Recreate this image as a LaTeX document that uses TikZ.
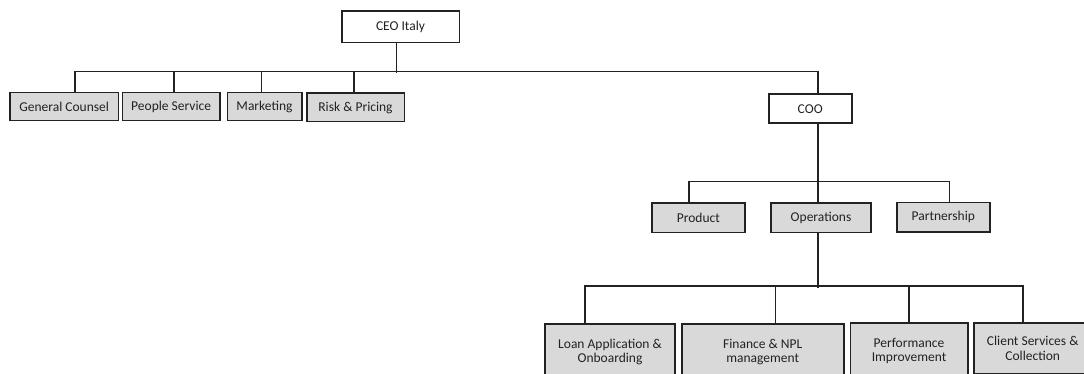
\documentclass[tikz,border=0pt]{standalone}
\usepackage{fontspec}
\setmainfont{Carlito}
\usepackage{tikz}
\definecolor{boxgray}{HTML}{D9D9D9}
\definecolor{linegray}{HTML}{222222}

\begin{document}
\begin{tikzpicture}[x=1pt, y=-1pt,
    every node/.style={font=\fontsize{13.5}{14.6}\selectfont, text=linegray, inner sep=0pt, align=center},
    head/.style={draw=linegray, line width=1.6pt, fill=white},
    unit/.style={draw=linegray, line width=1.6pt, fill=boxgray},
    link/.style={draw=linegray, line width=1.4pt}]
\useasboundingbox (0,0) rectangle (1084,374);
\clip (0,0) rectangle (1084,374);
% Draw top level
\node[head, minimum width=117.6, minimum height=31.7] (ceo) at (400.5,26.85) {CEO Italy};
\node[unit, minimum width=108.3, minimum height=28] (gc) at (64.15,106.7) {General Counsel};
\node[unit, minimum width=97.7, minimum height=28] (ps) at (171.15,106.7) {People Service};
\node[unit, minimum width=74.4, minimum height=28] (mk) at (264.5,106.7) {Marketing};
\node[unit, minimum width=97.6, minimum height=28.4] (rp) at (355.5,107.5) {Risk \& Pricing};
\node[head, minimum width=83, minimum height=29] (coo) at (810.2,108.8) {COO};
% Draw COO level
\node[unit, minimum width=93.3, minimum height=29] (prod) at (698.35,217.8) {Product};
\node[unit, minimum width=100, minimum height=29] (ops) at (821,217.8) {Operations};
\node[unit, minimum width=92.7, minimum height=29] (part) at (943.35,217.2) {Partnership};
% Draw operations level
\node[unit, minimum width=130, minimum height=56] (loan) at (610,352) {Loan Application \&\\Onboarding};
\node[unit, minimum width=162, minimum height=56] (fin) at (762.7,352) {Finance \& NPL\\management};
\node[unit, minimum width=117.4, minimum height=56] (perf) at (909,351) {Performance\\Improvement};
\node[unit, minimum width=118, minimum height=51] (cli) at (1032.7,348.2) {Client Services \&\\Collection};
% Draw connectors
\draw[link] ([xshift=-4.2pt]ceo.south) -- ++(0,29.8);
\draw[link] ([xshift=10.85pt]gc.north) -- ++(0,-20.2) -| ([xshift=7.8pt]coo.north);
\draw[link] ([xshift=2.85pt]ps.north) -- ++(0,-20.2);
\draw[link] ([xshift=-2.8pt]mk.north) -- ++(0,-20.2);
\draw[link] ([xshift=-1.5pt]rp.north) -- ++(0,-20.8);
\draw[link] ([xshift=7.8pt]coo.south) -- ([xshift=-3pt]ops.north);
\draw[link] ([xshift=-9.35pt]prod.north) -- ++(0,-21) -| ([xshift=5.95pt]part.north);
\draw[link] ([xshift=-3pt]ops.south) -- ++(0,54.4);
\draw[link] ([xshift=-25pt]loan.north) -- ++(0,-37.3) -| ([xshift=-9.7pt]cli.north);
\draw[link] ([xshift=13pt]fin.north) -- ++(0,-37.3);
\draw[link] (perf.north) -- ++(0,-36.3);
\end{tikzpicture}
\end{document}
